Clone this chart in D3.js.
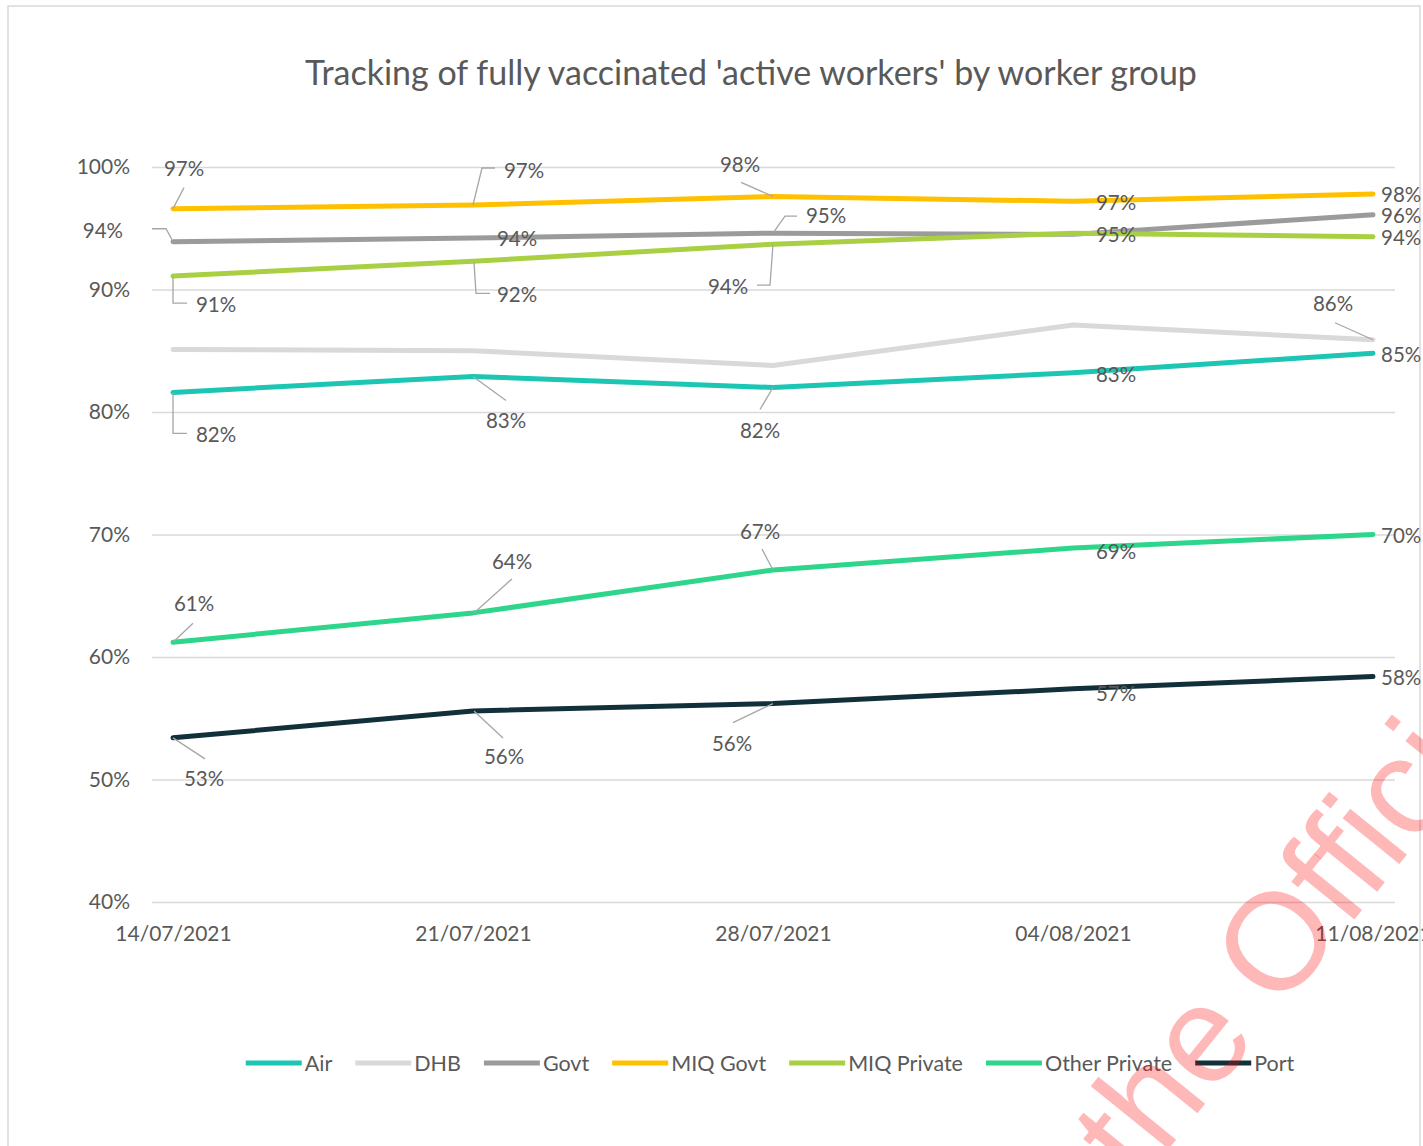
<!DOCTYPE html>
<html>
<head>
<meta charset="utf-8">
<script src="https://cdn.jsdelivr.net/npm/d3@7"></script>
<style>
  body { margin: 0; background: #fff; }
  svg text { font-family: Lato, "Open Sans", sans-serif; fill: #595959; }
</style>
</head>
<body>
<svg id="chart" width="1423" height="1146"></svg>
<script>
// data (percent)
const dates = ['14/07/2021', '21/07/2021', '28/07/2021', '04/08/2021', '11/08/2021'];
const air = [81.6, 82.9, 82.0, 83.2, 84.8];
const dhb = [85.1, 85.0, 83.8, 87.1, 85.9];
const govt = [93.9, 94.2, 94.6, 94.5, 96.1];
const miqGovt = [96.6, 96.9, 97.6, 97.2, 97.8];
const miqPrivate = [91.1, 92.3, 93.7, 94.6, 94.3];
const otherPrivate = [61.2, 63.6, 67.1, 68.9, 70.0];
const port = [53.4, 55.6, 56.2, 57.4, 58.4];
const seriesNames = ['Air', 'DHB', 'Govt', 'MIQ Govt', 'MIQ Private', 'Other Private', 'Port'];
const yTicks = [40, 50, 60, 70, 80, 90, 100];

const colors = ['#1cc6b3', '#d9d9d9', '#9b9b9b', '#ffc000', '#a9cf43', '#2dd68a', '#12303a'];

// label placement, offsets in px from the point (null = no label)
const labelLayout = [
  [ // Air
    {dx: 43, dy: 42, leader: [[0, 0], [0, 41], [14, 41]]},
    {dx: 33, dy: 44, leader: [[0, 0], [33, 24]]},
    {dx: -13, dy: 43, leader: [[0, 0], [-13, 22]]},
    {dx: 43, dy: 2},
    {dx: 8, dy: 2, anchor: 'start'}
  ],
  [null, null, null, null, // DHB
    {dx: -40, dy: -36, leader: [[0, 0], [-38, -17]]}
  ],
  [ // Govt (04/08 label sits under the MIQ Private one)
    {dx: -50, dy: -11, anchor: 'end', leader: [[-21, -13], [-7, -13], [-1, -2]]},
    {dx: 44, dy: 1},
    {dx: 53, dy: -17, leader: [[0, 0], [12, -17], [24, -17]]},
    null,
    {dx: 8, dy: 1, anchor: 'start'}
  ],
  [ // MIQ Govt
    {dx: 11, dy: -40, leader: [[0, 0], [11, -21]]},
    {dx: 51, dy: -34, leader: [[0, 0], [9, -37], [22, -37]]},
    {dx: -33, dy: -32, leader: [[0, 0], [-32, -14]]},
    {dx: 43, dy: 2},
    {dx: 8, dy: 1, anchor: 'start'}
  ],
  [ // MIQ Private
    {dx: 43, dy: 29, leader: [[0, 1], [0, 27], [14, 27]]},
    {dx: 44, dy: 33, leader: [[1, 1], [3, 32], [17, 32]]},
    {dx: -45, dy: 43, leader: [[0, 0], [-3, 41], [-16, 41]]},
    {dx: 43, dy: 2},
    {dx: 8, dy: 1, anchor: 'start'}
  ],
  [ // Other Private
    {dx: 21, dy: -38, leader: [[0, 0], [20, -19]]},
    {dx: 39, dy: -51, leader: [[1, 0], [39, -34]]},
    {dx: -13, dy: -38, leader: [[0, 0], [-11, -21]]},
    {dx: 43, dy: 4},
    {dx: 8, dy: 1, anchor: 'start'}
  ],
  [ // Port
    {dx: 31, dy: 41, leader: [[0, 0], [32, 21]]},
    {dx: 31, dy: 46, leader: [[1, 0], [30, 27]]},
    {dx: -41, dy: 40, leader: [[0, 0], [-40, 19]]},
    {dx: 43, dy: 5},
    {dx: 8, dy: 1, anchor: 'start'}
  ]
];

const values = [air, dhb, govt, miqGovt, miqPrivate, otherPrivate, port];
const series = seriesNames.map((name, i) => ({
  name: name,
  color: colors[i],
  points: values[i].map((v, j) => ({date: dates[j], value: v, layout: labelLayout[i][j]}))
}));

const svg = d3.select('#chart');

const plotLeft = 152, plotRight = 1395;
const x = d3.scalePoint().domain(dates).range([173, 1373]);
const y = d3.scaleLinear().domain([40, 100]).range([902, 167]);

// outer frame
svg.append('rect')
  .attr('x', 8).attr('y', 6)
  .attr('width', 1412).attr('height', 1170)
  .attr('fill', 'none')
  .attr('stroke', '#d9d9d9')
  .attr('stroke-width', 1.5);

// title
svg.append('text')
  .attr('x', 751).attr('y', 73)
  .attr('dy', '0.35em')
  .attr('text-anchor', 'middle')
  .style('font-size', '34px')
  .text("Tracking of fully vaccinated 'active workers' by worker group");

// y axis + grid
const yAxis = svg.append('g')
  .attr('transform', `translate(${plotLeft},0)`)
  .call(d3.axisLeft(y)
    .tickValues(yTicks)
    .tickSize(-(plotRight - plotLeft))
    .tickPadding(22)
    .tickFormat(d => d + '%'));
yAxis.select('.domain').remove();
yAxis.selectAll('line').attr('stroke', '#d9d9d9').attr('stroke-width', 1.5);
yAxis.selectAll('text').style('font-size', '21px').attr('fill', '#595959');

// x axis
const xAxis = svg.append('g')
  .attr('transform', `translate(0,${y(40)})`)
  .call(d3.axisBottom(x).tickSize(0).tickPadding(24));
xAxis.select('.domain').remove();
xAxis.selectAll('text').style('font-size', '21px').attr('fill', '#595959');

// lines
const line = d3.line()
  .x(d => x(d.date))
  .y(d => y(d.value));

svg.append('g')
  .selectAll('path')
  .data(series)
  .join('path')
  .attr('d', s => line(s.points))
  .attr('fill', 'none')
  .attr('stroke', s => s.color)
  .attr('stroke-width', 5)
  .attr('stroke-linejoin', 'round')
  .attr('stroke-linecap', 'round');

// data labels
const labels = [];
series.forEach(s => s.points.forEach(p => { if (p.layout) labels.push(p); }));

const labelG = svg.append('g');
labelG.selectAll('path')
  .data(labels.filter(p => p.layout.leader))
  .join('path')
  .attr('d', p => {
    const px = x(p.date), py = y(p.value);
    return d3.line()(p.layout.leader.map(o => [px + o[0], py + o[1]]));
  })
  .attr('fill', 'none')
  .attr('stroke', '#a6a6a6')
  .attr('stroke-width', 1.3);

labelG.selectAll('text')
  .data(labels)
  .join('text')
  .attr('x', p => x(p.date) + p.layout.dx)
  .attr('y', p => y(p.value) + p.layout.dy)
  .attr('dy', '0.35em')
  .attr('text-anchor', p => p.layout.anchor || 'middle')
  .style('font-size', '20.5px')
  .text(p => Math.round(p.value) + '%');

// legend
const legend = svg.append('g').attr('transform', 'translate(0,1063)');
const items = legend.selectAll('g')
  .data(series)
  .join('g');
items.append('line')
  .attr('x1', 0).attr('x2', 56)
  .attr('stroke', s => s.color)
  .attr('stroke-width', 5);
items.append('text')
  .attr('x', 59)
  .attr('dy', '0.35em')
  .style('font-size', '21.5px')
  .text(s => s.name);
let pos = 0;
const offsets = [];
items.each(function () {
  const w = 59 + this.querySelector('text').getComputedTextLength();
  offsets.push(pos);
  pos += w + 23;
});
const legendWidth = pos - 23;
const legendStart = 770 - legendWidth / 2;
items.attr('transform', (s, i) => `translate(${legendStart + offsets[i]},0)`);

// watermark of the released document
const wm = svg.append('g')
  .attr('transform', 'translate(1312,972) rotate(-51)')
  .style('pointer-events', 'none');
wm.append('text')
  .attr('x', -84)
  .attr('text-anchor', 'end')
  .style('font-family', '"Liberation Sans", Arial, sans-serif')
  .style('font-size', '138px')
  .style('fill', '#ff0000')
  .style('fill-opacity', 0.28)
  .text('Released under the');
wm.append('text')
  .attr('x', -52)
  .style('font-family', '"Liberation Sans", Arial, sans-serif')
  .style('font-size', '138px')
  .style('fill', '#ff0000')
  .style('fill-opacity', 0.28)
  .text('Official Information Act');
</script>
</body>
</html>
